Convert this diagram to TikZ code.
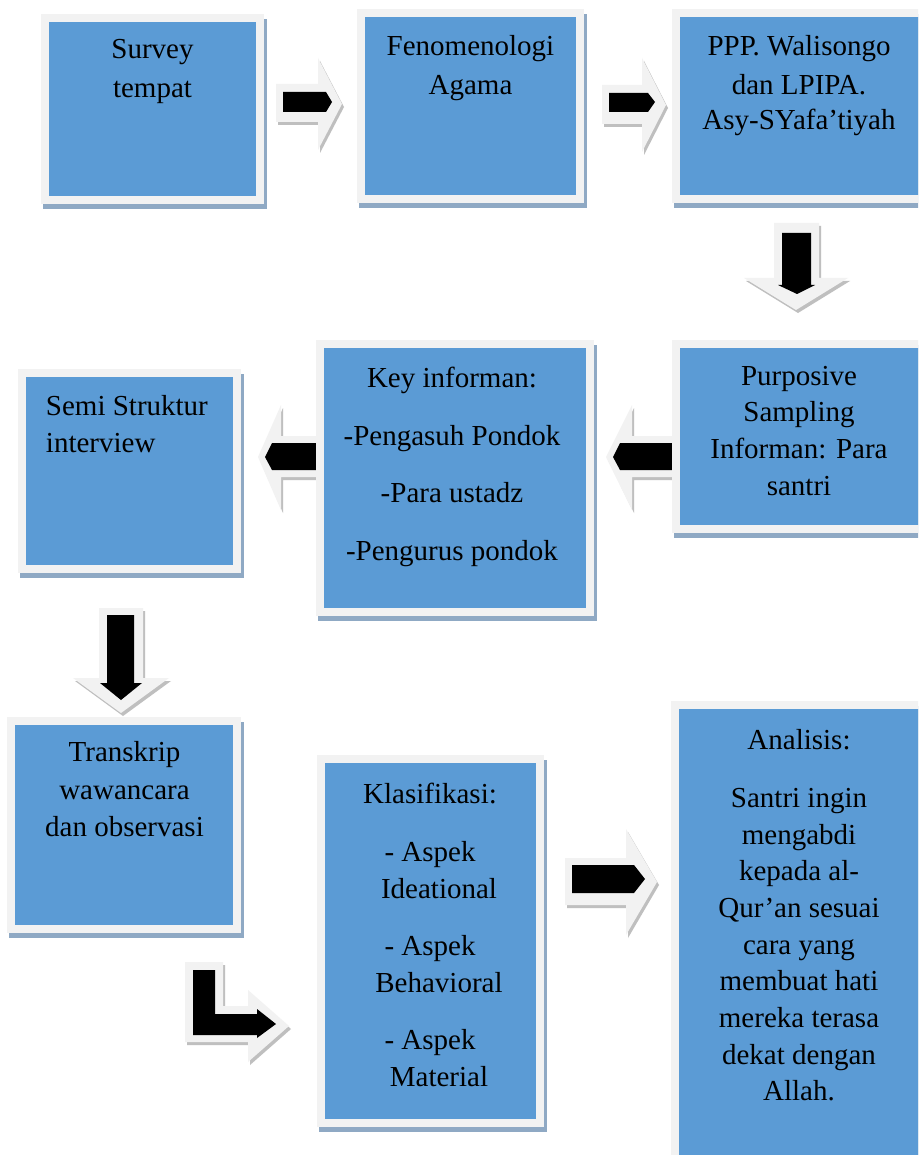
\documentclass[tikz,border=0pt]{standalone}
\usepackage{fontspec}
\setmainfont{Liberation Serif}
\definecolor{boxblue}{HTML}{5B9BD5}
\definecolor{boxframe}{HTML}{F2F2F2}
\definecolor{boxshadow}{HTML}{8FA9C4}
\definecolor{arrowgray}{HTML}{F2F2F2}
\definecolor{arrowshadow}{HTML}{BFBFBF}
\tikzset{
  boxfill/.style={fill=boxblue, inner sep=0pt, draw=none},
  txt/.style={inner sep=0pt, anchor=north, align=center, text=black,
    font=\fontsize{21.75pt}{27.5pt}\selectfont, execute at begin node=\strut},
  graya/.style={fill=arrowgray},
  shada/.style={fill=arrowshadow},
  blacka/.style={fill=black}
}
\newcommand{\flowbox}[5]{%
  \fill[boxshadow] ({#2+2},{#3+5}) rectangle ({#4+3},{#5+5});
  \fill[boxframe] (#2,#3) rectangle (#4,#5);
  \node[boxfill, minimum width={(#4-#2-16)*0.75pt}, minimum height={(#5-#3-16)*0.75pt}] (#1) at ({(#2+#4)/2},{(#3+#5)/2}) {};
}
\newcommand{\garrow}[1]{%
  \fill[shada, shift={(2,3)}] #1;
  \fill[graya] #1;
}
\begin{document}
\begin{tikzpicture}[x=0.75pt, y=-0.75pt]
\useasboundingbox (0,0) rectangle (918,1155);
\clip (0,0) rectangle (918,1155);
\fill[white] (0,0) rectangle (918,1155);

% left arrows (partly under boxes)
\garrow{(606,457) -- (632,405) -- (632,436) -- (690,436) -- (690,477) -- (632,477) -- (632,510) -- cycle}
\fill[blacka] (613,457) -- (620,443) -- (676,443) -- (676,470) -- (620,470) -- cycle;
\garrow{(258,457) -- (281,405) -- (281,436) -- (330,436) -- (330,477) -- (281,477) -- (281,510) -- cycle}
\fill[blacka] (265,457) -- (272,443) -- (322,443) -- (322,470) -- (272,470) -- cycle;

% boxes
\flowbox{survey}{41}{14}{264}{204}
\flowbox{feno}{357}{9}{584}{203}
\flowbox{ppp}{672}{9}{934}{203}
\flowbox{purp}{672}{340}{934}{533}
\flowbox{key}{316}{340}{594}{616}
\flowbox{semi}{18}{369}{241}{573}
\flowbox{trans}{7}{717}{241}{933}
\flowbox{klas}{317}{755}{544}{1127}
\flowbox{anal}{671}{701}{934}{1164}

% right arrows
\garrow{(276,84) -- (318,84) -- (318,58) -- (342,104) -- (318,150) -- (318,122) -- (276,122) -- cycle}
\fill[blacka] (283,92) -- (326,92) -- (332,102) -- (326,112) -- (283,112) -- cycle;
\garrow{(602,85) -- (642,85) -- (642,58) -- (666,105) -- (642,152) -- (642,124) -- (602,124) -- cycle}
\fill[blacka] (609,93) -- (648,93) -- (655,102) -- (648,112) -- (609,112) -- cycle;
\garrow{(565,858) -- (626,858) -- (626,829) -- (657,882) -- (626,935) -- (626,905) -- (565,905) -- cycle}
\fill[blacka] (572,865) -- (634,865) -- (645,879) -- (634,893) -- (572,893) -- cycle;

% down arrows
\garrow{(774,223) -- (819,223) -- (819,278) -- (848,278) -- (796,310) -- (744,278) -- (774,278) -- cycle}
\fill[blacka] (782,233) -- (811,233) -- (811,285) -- (815,285) -- (797,294) -- (778,285) -- (782,285) -- cycle;
\garrow{(99,608) -- (143,608) -- (143,678) -- (169,678) -- (121,713) -- (73,678) -- (99,678) -- cycle}
\fill[blacka] (107,615) -- (134,615) -- (134,683) -- (142,683) -- (121,700) -- (100,683) -- (107,683) -- cycle;

% L arrow
\garrow{(185,962) -- (223,962) -- (223,1006) -- (248,1006) -- (248,990) -- (289,1026) -- (248,1062) -- (248,1042) -- (185,1042) -- cycle}
\fill[blacka] (193,970) -- (215,970) -- (215,1014) -- (257,1014) -- (257,1009) -- (276,1024) -- (257,1038) -- (257,1035) -- (193,1035) -- cycle;

% texts
\node[txt] (t1) at (152.5,39.3) {Survey\\[1.7pt]tempat};
\node[txt] (t2) at (470.5,35.3) {Fenomenologi\\[1.3pt]Agama};
\node[txt] (t3) at (799,35.3) {PPP. Walisongo\\[1.3pt]dan LPIPA.\\[-1.3pt]Asy-SYafa’tiyah};
\node[txt] (t4) at (799,365.8) {Purposive\\Sampling\\Informan: Para\\santri};
\node[txt] (t5) at (452,367.3) {Key informan:\\[15.6pt]-Pengasuh Pondok\\[15.6pt]-Para ustadz\\[15.6pt]-Pengurus pondok};
\node[txt, anchor=north west, align=left] (t6) at (45.7,394.8) {Semi Struktur\\[0.75pt]interview};
\node[txt] (t7) at (124.5,741.3) {Transkrip\\[0.6pt]wawancara\\[0.6pt]dan observasi};
\node[txt] (t8) at (430,783.3) {Klasifikasi:\\[15.6pt]- Aspek\\\hspace*{13.5pt}Ideational\\[15.6pt]- Aspek\\\hspace*{13.5pt}Behavioral\\[15.6pt]- Aspek\\\hspace*{13.5pt}Material};
\node[txt] (t9) at (799,728.8) {Analisis:\\[16.2pt]Santri ingin\\mengabdi\\kepada al-\\Qur’an sesuai\\cara yang\\membuat hati\\mereka terasa\\dekat dengan\\Allah.};
\end{tikzpicture}
\end{document}
